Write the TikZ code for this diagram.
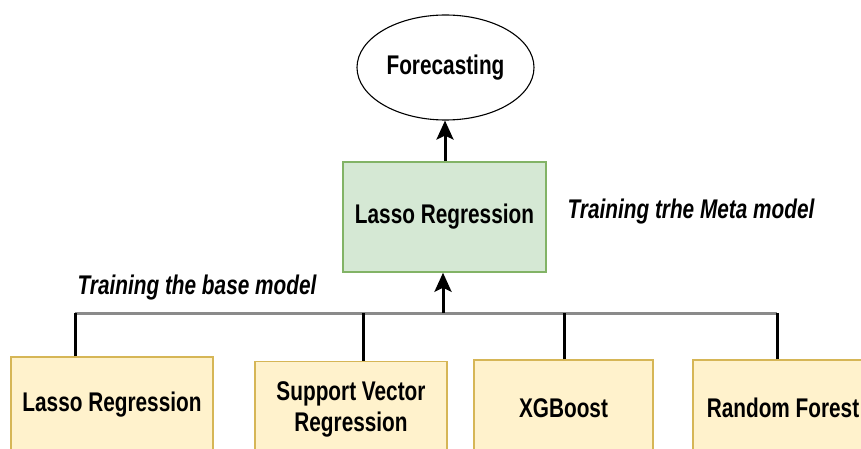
\documentclass[tikz,border=0pt]{standalone}
\usepackage{fontspec}
\setmainfont{Liberation Sans}[FakeStretch=0.77]
\usetikzlibrary{shapes.geometric,arrows.meta}
\definecolor{gfill}{HTML}{D5E8D4}
\definecolor{gline}{HTML}{82B366}
\definecolor{yfill}{HTML}{FFF2CC}
\definecolor{yline}{HTML}{D6B656}
\definecolor{busgray}{HTML}{8A8A8A}
\begin{document}
\begin{tikzpicture}[x=1pt,y=-1pt,
  txt/.style={font=\fontsize{27}{31}\selectfont\bfseries, align=center, inner sep=0pt},
  lbl/.style={font=\fontsize{27}{31}\selectfont\bfseries\itshape, inner sep=0pt},
  basebox/.style={txt, draw=yline, fill=yfill, line width=1.5pt, minimum height=96pt},
  metabox/.style={txt, draw=gline, fill=gfill, line width=1.5pt, minimum width=203pt, minimum height=110pt},
  oval/.style={txt, ellipse, draw=black, line width=1.1pt, minimum width=177pt, minimum height=105pt},
  link/.style={line width=3pt, black},
  arr/.style={line width=3pt, black, -{Stealth[length=19pt, width=17pt, inset=4pt]}},
  busline/.style={line width=3pt, busgray}
]
\useasboundingbox (0,0) rectangle (861,449);
\clip (0,0) rectangle (861,449);

\node[oval] (fc) at (445.5,67.5) {Forecasting};
\node[metabox] (meta) at (444.5,217) {Lasso Regression};

\node[basebox, minimum width=202pt] (b1) at (112,405) {Lasso Regression};
\node[basebox, minimum width=192pt] (b2) at (351,409.5) {Support Vector\\Regression};
\node[basebox, minimum width=179pt] (b3) at (563.5,408) {XGBoost};
\node[basebox, minimum width=180pt] (b4) at (783,408) {Random Forest};

\node[lbl] (lbase) at (197,288) {Training the base model};
\node[lbl] (lmeta) at (691,212) {Training trhe Meta model};

\coordinate (t1) at (b1.north -| 75,0);
\coordinate (t2) at (b2.north -| 363,0);
\coordinate (t3) at (b3.north -| 564,0);
\coordinate (t4) at (b4.north -| 777,0);
\coordinate (busL) at (75,313);
\coordinate (busR) at (777,313);
\coordinate (busM) at (443,313);

\draw[busline] (busL) -- (busR);
\draw[link] (t1) -- (t1 |- busL);
\draw[link] (t2) -- (t2 |- busL);
\draw[link] (t3) -- (t3 |- busL);
\draw[link] (t4) -- (t4 |- busL);

\draw[arr] (busM) -- (busM |- meta.south);
\draw[arr] (meta.north -| 445,0) -- (fc.south -| 445,0);
\end{tikzpicture}
\end{document}
